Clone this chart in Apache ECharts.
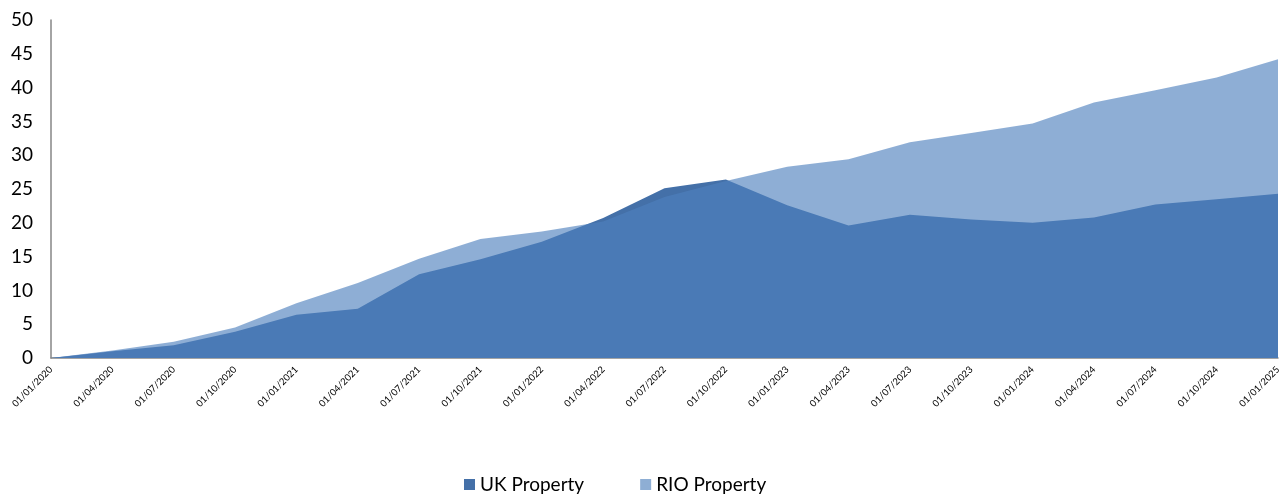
<!DOCTYPE html>
<html>
<head>
<meta charset="utf-8">
<script src="https://cdn.jsdelivr.net/npm/echarts@6/dist/echarts.min.js"></script>
<style>
html,body{margin:0;padding:0;background:#fff;}
#chart{width:1284px;height:496px;}
</style>
</head>
<body>
<div id="chart"></div>
<script>
const categories = ['01/01/2020','01/04/2020','01/07/2020','01/10/2020','01/01/2021','01/04/2021','01/07/2021','01/10/2021','01/01/2022','01/04/2022','01/07/2022','01/10/2022','01/01/2023','01/04/2023','01/07/2023','01/10/2023','01/01/2024','01/04/2024','01/07/2024','01/10/2024','01/01/2025'];
const ukProperty = [0, 1.0, 1.9, 3.9, 6.4, 7.3, 12.4, 14.6, 17.2, 20.7, 25.1, 26.4, 22.6, 19.6, 21.2, 20.5, 20.0, 20.8, 22.7, 23.5, 24.3];
const rioProperty = [0, 1.1, 2.4, 4.5, 8.1, 11.1, 14.7, 17.6, 18.7, 20.2, 23.8, 26.2, 28.3, 29.4, 31.9, 33.3, 34.7, 37.8, 39.6, 41.5, 44.2];
const seriesNames = ['UK Property', 'RIO Property'];

const chart = echarts.init(document.getElementById('chart'), null, {renderer: 'canvas'});
const font = 'Lato, Carlito, "Open Sans", sans-serif';
chart.setOption({
  animation: false,
  grid: {left: 51, right: 6, top: 20, bottom: 138, containLabel: false},
  legend: {
    top: 470, left: 459,
    itemWidth: 11, itemHeight: 11, itemGap: 56,
    icon: 'rect',
    textStyle: {fontFamily: font, fontSize: 19, color: '#000'},
    data: [
      {name: seriesNames[0], itemStyle: {color: '#4470a8', opacity: 1}},
      {name: seriesNames[1], itemStyle: {color: '#8eaed4', opacity: 1}}
    ]
  },
  xAxis: {
    type: 'category',
    data: categories,
    boundaryGap: false,
    axisLine: {lineStyle: {color: '#868686', width: 1.5}},
    axisTick: {show: false},
    axisLabel: {rotate: 45, fontFamily: font, fontSize: 9.5, color: '#000', margin: 10, interval: 0}
  },
  yAxis: {
    type: 'value',
    min: 0, max: 50, interval: 5,
    splitLine: {show: false},
    axisLine: {show: true, lineStyle: {color: '#868686', width: 1.5}},
    axisTick: {show: false},
    axisLabel: {fontFamily: font, fontSize: 19, color: '#000', margin: 18}
  },
  series: [
    {
      name: seriesNames[0], type: 'line', data: ukProperty,
      symbol: 'none', lineStyle: {width: 0},
      itemStyle: {color: '#4470a8'},
      areaStyle: {color: '#4470a8', opacity: 1}
    },
    {
      name: seriesNames[1], type: 'line', data: rioProperty,
      symbol: 'none', lineStyle: {width: 0},
      itemStyle: {color: '#4f81bd'},
      areaStyle: {color: '#4f81bd', opacity: 0.64}
    }
  ]
});
</script>
</body>
</html>
